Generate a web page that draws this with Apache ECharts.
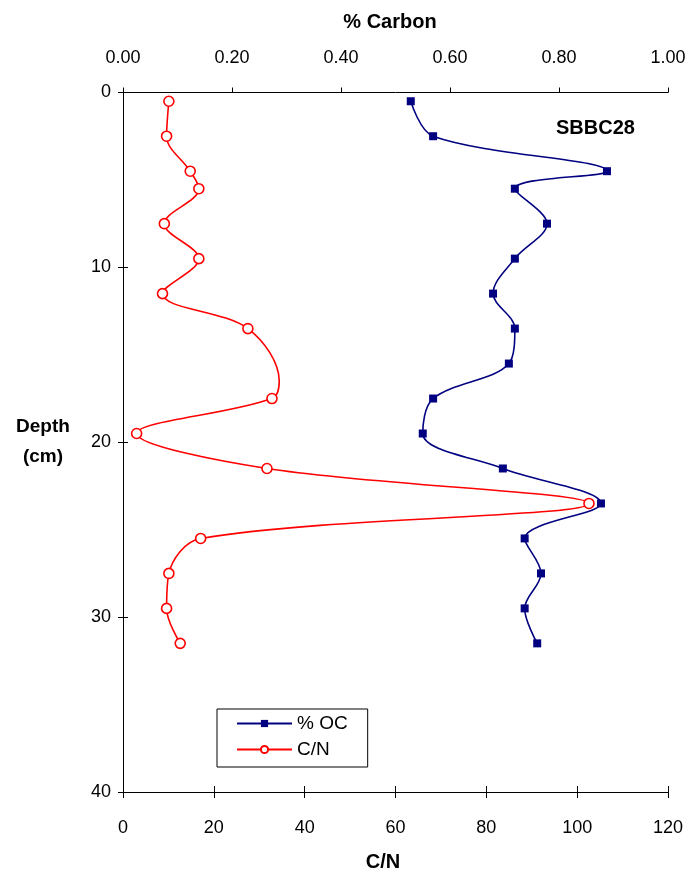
<!DOCTYPE html>
<html>
<head>
<meta charset="utf-8">
<script src="https://cdn.jsdelivr.net/npm/echarts@6/dist/echarts.min.js"></script>
<style>
  html, body { margin: 0; padding: 0; background: #fff; }
  #chart { width: 694px; height: 878px; }
</style>
</head>
<body>
<div id="chart"></div>
<script>
// Core SBBC28: organic carbon and C/N ratio against depth
const depthCm = [0.5, 2.5, 4.5, 5.5, 7.5, 9.5, 11.5, 13.5, 15.5, 17.5, 19.5, 21.5, 23.5, 25.5, 27.5, 29.5, 31.5];
const percentOC = [0.528, 0.569, 0.888, 0.719, 0.778, 0.719, 0.679, 0.719, 0.708, 0.569, 0.550, 0.697, 0.877, 0.737, 0.767, 0.737, 0.760];

// C/N profile (one unmarked vertex at 16.5 cm where the trace bends)
const cnDepth = [0.5, 2.5, 4.5, 5.5, 7.5, 9.5, 11.5, 13.5, 16.5, 17.5, 19.5, 21.5, 23.5, 25.5, 27.5, 29.5, 31.5];
const cnRatio = [10.1, 9.6, 14.8, 16.7, 9.1, 16.7, 8.7, 27.5, 34.4, 32.8, 3.0, 31.7, 102.6, 17.1, 10.1, 9.6, 12.6];
const cnMarked = [1, 1, 1, 1, 1, 1, 1, 1, 0, 1, 1, 1, 1, 1, 1, 1, 1];

const depthTicks = [0, 40, 10];      // min, max, step
const cnTicks = [0, 120, 20];
const carbonTicks = [0, 1, 0.2];

const FONT = 'Liberation Sans, Arial, sans-serif';
const AXIS_COLOR = '#000';

const ocData = depthCm.map((d, i) => [percentOC[i], d]);
const cnData = cnDepth.map((d, i) => cnMarked[i]
  ? [cnRatio[i], d]
  : { value: [cnRatio[i], d], symbol: 'none' });

const chart = echarts.init(document.getElementById('chart'), null, { renderer: 'canvas' });

const tickLabel = { color: '#000', fontFamily: FONT, fontSize: 18 };
const plotRect = { left: 123, right: 26, top: 92.5, bottom: 86, containLabel: false };
const mainLine = { show: true, onZero: false, lineStyle: { color: AXIS_COLOR, width: 1 } };

// Second grid with the same rectangle carries the inward half of the crossing ticks
const innerTickAxis = (extra, len) => Object.assign({
  type: 'value', gridIndex: 1,
  axisLine: { show: false, onZero: false },
  axisTick: { show: true, inside: true, length: len, lineStyle: { color: AXIS_COLOR } },
  axisLabel: { show: false },
  splitLine: { show: false }
}, extra);

chart.setOption({
  animation: false,
  backgroundColor: '#fff',
  grid: [Object.assign({}, plotRect), Object.assign({}, plotRect)],
  xAxis: [
    {
      type: 'value', gridIndex: 0, position: 'bottom',
      min: cnTicks[0], max: cnTicks[1], interval: cnTicks[2],
      axisLine: mainLine,
      axisTick: { show: true, inside: false, length: 6, lineStyle: { color: AXIS_COLOR } },
      axisLabel: Object.assign({ margin: 27 }, tickLabel),
      splitLine: { show: false }
    },
    {
      type: 'value', gridIndex: 0, position: 'top',
      min: carbonTicks[0], max: carbonTicks[1], interval: carbonTicks[2],
      axisLine: mainLine,
      axisTick: { show: true, inside: false, length: 5, lineStyle: { color: AXIS_COLOR } },
      axisLabel: Object.assign({ margin: 25, formatter: v => v.toFixed(2) }, tickLabel),
      splitLine: { show: false }
    },
    innerTickAxis({ position: 'bottom', min: cnTicks[0], max: cnTicks[1], interval: cnTicks[2] }, 6)
  ],
  yAxis: [
    {
      type: 'value', gridIndex: 0, inverse: true, position: 'left',
      min: depthTicks[0], max: depthTicks[1], interval: depthTicks[2],
      axisLine: mainLine,
      axisTick: { show: true, inside: false, length: 5, lineStyle: { color: AXIS_COLOR } },
      axisLabel: Object.assign({ margin: 12 }, tickLabel),
      splitLine: { show: false }
    },
    innerTickAxis({ position: 'left', inverse: true, min: depthTicks[0], max: depthTicks[1], interval: depthTicks[2] }, 5)
  ],
  legend: {
    orient: 'vertical',
    left: 217, top: 709,
    padding: [5, 20, 8, 19],
    itemGap: 7,
    itemWidth: 55, itemHeight: 9,
    backgroundColor: '#fff',
    borderColor: '#000', borderWidth: 1,
    textStyle: { color: '#000', fontFamily: FONT, fontSize: 19, lineHeight: 16 },
    data: ['% OC', 'C/N']
  },
  graphic: [
    { type: 'text', x: 390, y: 12,
      style: { text: '% Carbon', font: 'bold 20px ' + FONT, fill: '#000', align: 'center' } },
    { type: 'text', x: 383, y: 852,
      style: { text: 'C/N', font: 'bold 20px ' + FONT, fill: '#000', align: 'center' } },
    { type: 'text', x: 43, y: 412,
      style: { text: 'Depth\n(cm)', font: 'bold 19px ' + FONT, fill: '#000', align: 'center', lineHeight: 30 } },
    { type: 'text', x: 556, y: 118,
      style: { text: 'SBBC28', font: 'bold 20px ' + FONT, fill: '#000' } }
  ],
  series: [
    {
      name: '% OC', type: 'line',
      xAxisIndex: 1, yAxisIndex: 0,
      data: ocData,
      smooth: 0.35,
      symbol: 'rect', symbolSize: 8,
      lineStyle: { color: '#000080', width: 1.6 },
      itemStyle: { color: '#000080', borderColor: '#000080', borderWidth: 0 },
      z: 3
    },
    {
      name: 'C/N', type: 'line',
      xAxisIndex: 0, yAxisIndex: 0,
      data: cnData,
      smooth: 0.35,
      symbol: 'circle', symbolSize: 10, showAllSymbol: true,
      lineStyle: { color: '#ff0000', width: 1.6 },
      itemStyle: { color: '#fff', borderColor: '#ff0000', borderWidth: 1.6 },
      z: 4
    }
  ]
});
</script>
</body>
</html>
